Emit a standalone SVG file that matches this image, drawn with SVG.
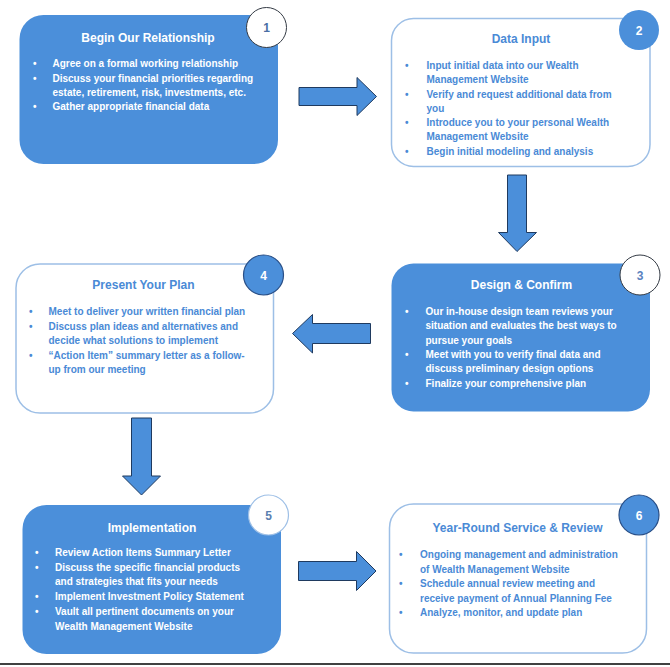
<svg xmlns="http://www.w3.org/2000/svg" width="670" height="667" viewBox="0 0 670 667">
<style>
.bf{fill:#4b8fda;}
.bo{fill:#ffffff;stroke:#9dbfe6;stroke-width:1.5;}
.t{font-family:"Liberation Sans",Arial,sans-serif;font-weight:bold;}
.ti{font-size:12px;text-anchor:middle;}
.li{font-size:10px;}
.w{fill:#ffffff;}
.b{fill:#4a8ad6;}
.arr{fill:#4b8fda;stroke:#1f3a5f;stroke-width:1;stroke-linejoin:miter;}
.cw{fill:#ffffff;stroke:#333a44;stroke-width:1;}
.cl{fill:#ffffff;stroke:#9dbfe6;stroke-width:1.2;}
.cb{fill:#4b8fda;}
.cbd{fill:#4b8fda;stroke:#2a4f86;stroke-width:1.2;}
.num{font-family:"Liberation Sans",Arial,sans-serif;font-weight:bold;font-size:12px;text-anchor:middle;}
</style>
<rect width="670" height="667" fill="#ffffff"/>

<g id="connectors">
<polygon class="arr" points="299,87.5 357,87.5 357,77.5 376.5,96.5 357,115.5 357,105.5 299,105.5"/>
<polygon class="arr" points="507.5,175 526.5,175 526.5,232.5 536.5,232.5 517,251.5 498.5,232.5 507.5,232.5"/>
<polygon class="arr" points="370.5,323.5 312.5,323.5 312.5,314.5 292.5,333.5 312.5,353 312.5,343.5 370.5,343.5"/>
<polygon class="arr" points="131.5,418 151.5,418 151.5,476 160.5,476 141.5,495 122.5,476 131.5,476"/>
<polygon class="arr" points="298.5,561.5 356.5,561.5 356.5,551.5 376,571 356.5,590.5 356.5,580.5 298.5,580.5"/>
</g>

<g id="node1">
<rect class="bf" x="19.5" y="15" width="258.5" height="149" rx="24"/>
<text class="t ti w" x="148" y="41.5">Begin Our Relationship</text>
<g class="t li w">
<text x="33" y="67">•</text><text x="52.5" y="67">Agree on a formal working relationship</text>
<text x="33" y="81.5">•</text><text x="52.5" y="81.5">Discuss your financial priorities regarding</text>
<text x="52.5" y="95.5">estate, retirement, risk, investments, etc.</text>
<text x="33" y="110">•</text><text x="52.5" y="110">Gather appropriate financial data</text>
</g>
<circle class="cw" cx="266.5" cy="27.5" r="20"/>
<text class="num" x="266.5" y="32" fill="#4a6fa5">1</text>
</g>

<g id="node2">
<rect class="bo" x="391.5" y="18.5" width="258.5" height="148" rx="22"/>
<text class="t ti b" x="521" y="42.5">Data Input</text>
<g class="t li b">
<text x="405" y="69">•</text><text x="426.5" y="69">Input initial data into our Wealth</text>
<text x="426.5" y="83">Management Website</text>
<text x="405" y="97.5">•</text><text x="426.5" y="97.5">Verify and request additional data from</text>
<text x="426.5" y="111.5">you</text>
<text x="405" y="126">•</text><text x="426.5" y="126">Introduce you to your personal Wealth</text>
<text x="426.5" y="140">Management Website</text>
<text x="405" y="154.5">•</text><text x="426.5" y="154.5">Begin initial modeling and analysis</text>
</g>
<circle class="cb" cx="639" cy="30" r="20"/>
<text class="num" x="639" y="34.5" fill="#ffffff">2</text>
</g>

<g id="node3">
<rect class="bf" x="391.5" y="263.5" width="258.5" height="148" rx="22"/>
<text class="t ti w" x="521.5" y="288.5">Design &amp; Confirm</text>
<g class="t li w">
<text x="405" y="315">•</text><text x="425.5" y="315">Our in-house design team reviews your</text>
<text x="425.5" y="329">situation and evaluates the best ways to</text>
<text x="425.5" y="343.5">pursue your goals</text>
<text x="405" y="358">•</text><text x="425.5" y="358">Meet with you to verify final data and</text>
<text x="425.5" y="372">discuss preliminary design options</text>
<text x="405" y="386.5">•</text><text x="425.5" y="386.5">Finalize your comprehensive plan</text>
</g>
<circle class="cw" cx="640" cy="275" r="20"/>
<text class="num" x="640" y="279.5" fill="#5a82c0">3</text>
</g>

<g id="node4">
<rect class="bo" x="16" y="264" width="257.5" height="149" rx="24"/>
<text class="t ti b" x="143.5" y="288.5">Present Your Plan</text>
<g class="t li b">
<text x="29" y="315">•</text><text x="48.5" y="315">Meet to deliver your written financial plan</text>
<text x="29" y="329.5">•</text><text x="48.5" y="329.5">Discuss plan ideas and alternatives and</text>
<text x="48.5" y="344">decide what solutions to implement</text>
<text x="29" y="358.5">•</text><text x="48.5" y="358.5">“Action Item” summary letter as a follow-</text>
<text x="48.5" y="373">up from our meeting</text>
</g>
<circle class="cbd" cx="263.5" cy="275" r="20"/>
<text class="num" x="263.5" y="279.5" fill="#ffffff">4</text>
</g>

<g id="node5">
<rect class="bf" x="22.5" y="505" width="258.5" height="149" rx="24"/>
<text class="t ti w" x="152" y="531.5">Implementation</text>
<g class="t li w">
<text x="35" y="556">•</text><text x="55" y="556">Review Action Items Summary Letter</text>
<text x="35" y="570.5">•</text><text x="55" y="570.5">Discuss the specific financial products</text>
<text x="55" y="585">and strategies that fits your needs</text>
<text x="35" y="600">•</text><text x="55" y="600">Implement Investment Policy Statement</text>
<text x="35" y="615">•</text><text x="55" y="615">Vault all pertinent documents on your</text>
<text x="55" y="629.5">Wealth Management Website</text>
</g>
<circle class="cl" cx="268.5" cy="515" r="20"/>
<text class="num" x="268.5" y="519.5" fill="#5b7fb0">5</text>
</g>

<g id="node6">
<rect class="bo" x="389.5" y="504" width="257" height="149" rx="24"/>
<text class="t ti b" x="517.5" y="531.5">Year-Round Service &amp; Review</text>
<g class="t li b">
<text x="399" y="558">•</text><text x="420" y="558">Ongoing management and administration</text>
<text x="420" y="572.5">of Wealth Management Website</text>
<text x="399" y="587">•</text><text x="420" y="587">Schedule annual review meeting and</text>
<text x="420" y="601.5">receive payment of Annual Planning Fee</text>
<text x="399" y="616">•</text><text x="420" y="616">Analyze, monitor, and update plan</text>
</g>
<circle class="cbd" cx="639" cy="515" r="20"/>
<text class="num" x="639" y="519.5" fill="#ffffff">6</text>
</g>

<line x1="0" y1="664" x2="670" y2="664" stroke="#000000" stroke-width="1.5"/>
</svg>
